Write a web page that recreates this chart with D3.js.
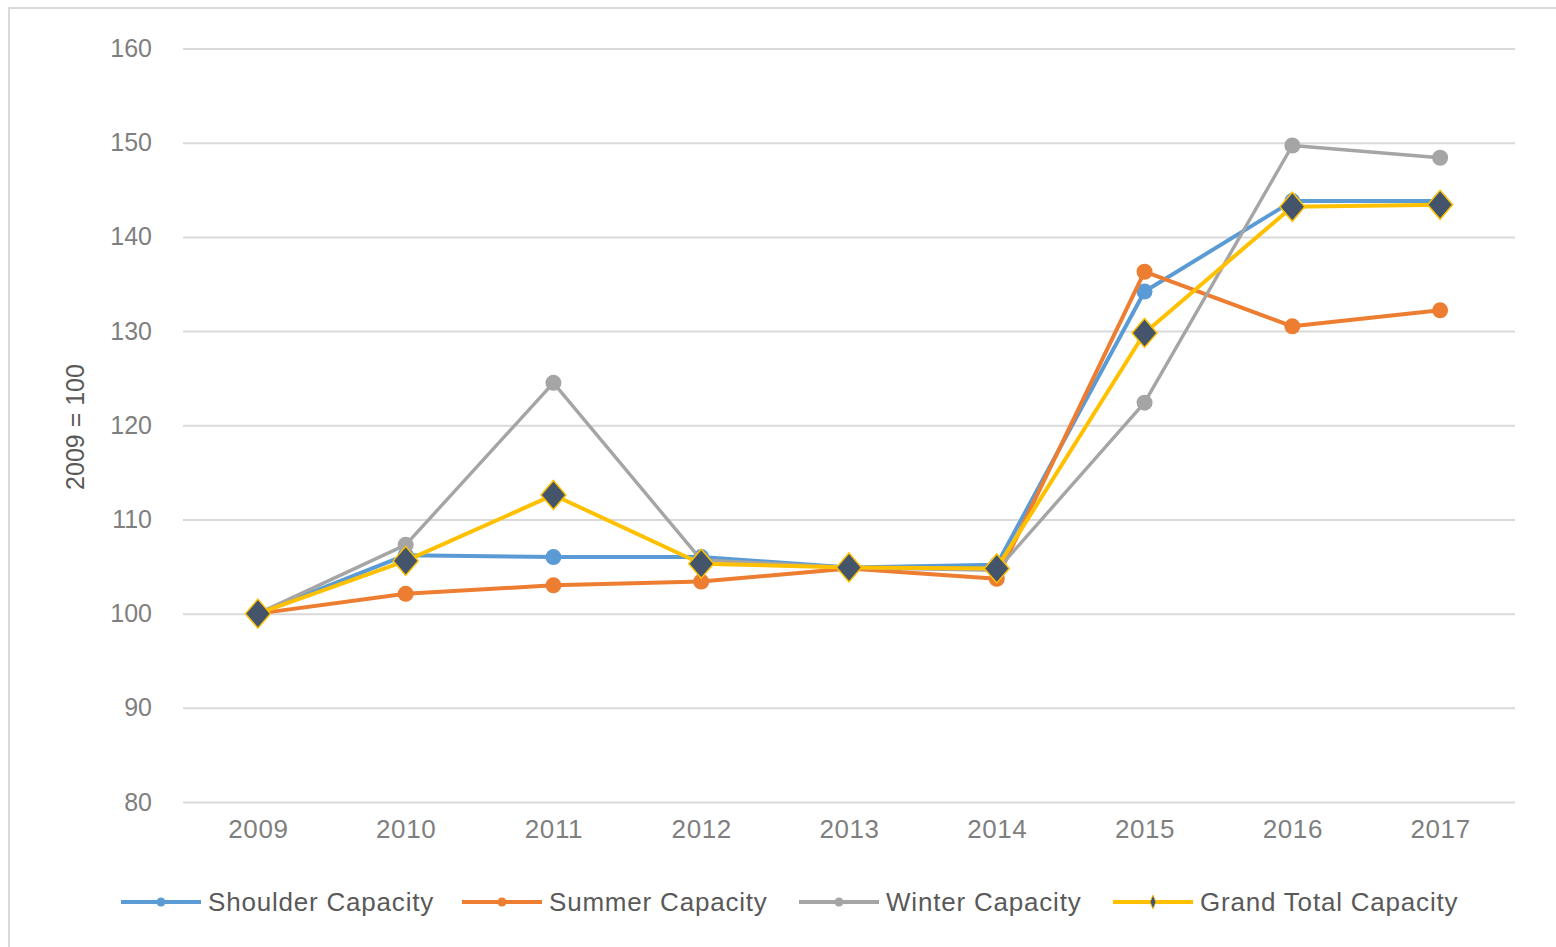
<!DOCTYPE html>
<html>
<head>
<meta charset="utf-8">
<script src="https://cdn.jsdelivr.net/npm/d3@7/dist/d3.min.js"></script>
<style>
html,body{margin:0;padding:0;background:#fff;}
svg{display:block;}
text{font-family:"Liberation Sans",Arial,sans-serif;}
</style>
</head>
<body>
<svg id="chart" width="1556" height="947"></svg>
<script>
const years = ["2009","2010","2011","2012","2013","2014","2015","2016","2017"];
const shoulder = [100, 106.2, 106.0, 106.0, 104.9, 105.2, 134.2, 143.8, 143.8];
const summer   = [100, 102.1, 103.0, 103.4, 104.8, 103.7, 136.3, 130.5, 132.2];
const winter   = [100, 107.3, 124.5, 105.7, 104.9, 104.6, 122.4, 149.7, 148.4];
const grand    = [100, 105.6, 112.6, 105.3, 104.9, 104.8, 129.8, 143.2, 143.4];
const yTicks = [80, 90, 100, 110, 120, 130, 140, 150, 160];
const seriesNames = ["Shoulder Capacity","Summer Capacity","Winter Capacity","Grand Total Capacity"];
const seriesColors = ["#5B9BD5","#ED7D31","#A5A5A5","#FFC000"];
const yTitle = "2009 = 100";

const svg = d3.select("#chart");

// outer frame
svg.append("rect").attr("x",9).attr("y",8).attr("width",1700).attr("height",1100)
  .attr("fill","none").attr("stroke","#d9d9d9").attr("stroke-width",2);

const x = d3.scalePoint().domain(years).range([184,1514]).padding(0.5);
const y = d3.scaleLinear().domain([80,160]).range([802,48.5]);

// gridlines
const yAxis = d3.axisLeft(y).tickValues(yTicks).tickSize(-(1515-183)).tickPadding(31);
const gy = svg.append("g").attr("transform","translate(183,0)").call(yAxis);
gy.select(".domain").remove();
gy.selectAll(".tick line").attr("stroke","#d9d9d9").attr("stroke-width",2);
gy.selectAll(".tick text").attr("fill","#7f7f7f").style("font-size","25px")
  .style("font-family","'Liberation Sans',Arial,sans-serif");

// x axis labels
const xAxis = d3.axisBottom(x).tickSize(0).tickPadding(18);
const gx = svg.append("g").attr("transform","translate(0,802)").call(xAxis);
gx.select(".domain").remove();
gx.selectAll(".tick text").attr("fill","#7f7f7f").style("font-size","26px")
  .style("letter-spacing","0.6px")
  .style("font-family","'Liberation Sans',Arial,sans-serif");

// y title
svg.append("text").attr("transform","translate(84,427) rotate(-90)")
  .attr("text-anchor","middle").attr("fill","#595959").style("font-size","25px").text(yTitle);

const data = [shoulder, summer, winter, grand];
const line = d3.line().x((d,i)=>x(years[i])).y(d=>y(d));

const diamond = (hw,hh)=>`M0,${-hh}L${hw},0L0,${hh}L${-hw},0Z`;

data.forEach((vals,si)=>{
  const g = svg.append("g");
  g.append("path").datum(vals).attr("d",line).attr("fill","none")
    .attr("stroke",seriesColors[si]).attr("stroke-width",si===2?3.4:4)
    .attr("stroke-linejoin","round");
  if(si<3){
    g.selectAll("circle").data(vals).enter().append("circle")
      .attr("cx",(d,i)=>x(years[i])).attr("cy",d=>y(d)).attr("r",8)
      .attr("fill",seriesColors[si]);
  } else {
    g.selectAll("path.m").data(vals).enter().append("path").attr("class","m")
      .attr("transform",(d,i)=>`translate(${x(years[i])},${y(d)})`)
      .attr("d",diamond(12.5,14.5)).attr("fill","#44546A")
      .attr("stroke","#FFC000").attr("stroke-width",1.5);
  }
});

// legend
const legendX = [121, 462, 799, 1113];
const legY = 902;
seriesNames.forEach((name,i)=>{
  const g = svg.append("g").attr("transform",`translate(${legendX[i]},${legY})`);
  g.append("line").attr("x1",0).attr("x2",80).attr("y1",0).attr("y2",0)
    .attr("stroke",seriesColors[i]).attr("stroke-width",4);
  if(i<3){
    g.append("circle").attr("cx",40).attr("cy",0).attr("r",4.5).attr("fill",seriesColors[i]);
  } else {
    g.append("path").attr("transform","translate(40,0)").attr("d",diamond(3,7))
      .attr("fill","#44546A").attr("stroke","#FFC000").attr("stroke-width",0.8);
  }
  g.append("text").attr("x",87).attr("y",9).attr("fill","#595959")
    .style("font-size","26px").style("letter-spacing","0.8px").text(name);
});
</script>
</body>
</html>
